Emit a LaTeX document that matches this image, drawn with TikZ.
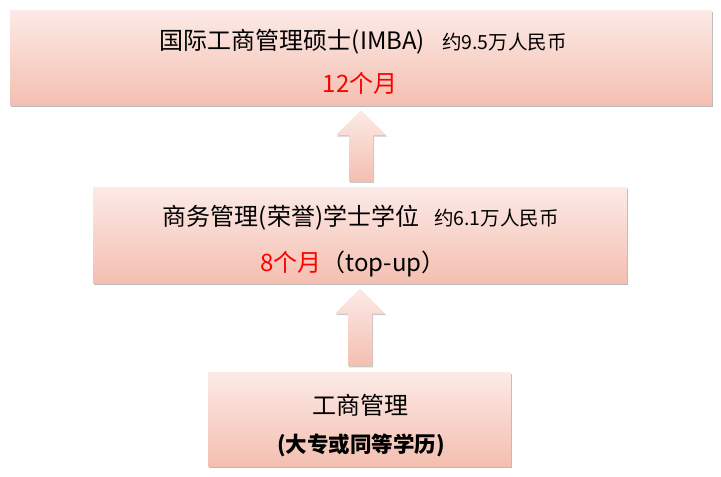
\documentclass[tikz,border=0pt]{standalone}
\usepackage{fontspec}
\setmainfont{Noto Sans CJK SC}
\usetikzlibrary{calc,shadows}
\definecolor{pinktop}{HTML}{FCEAE6}
\definecolor{pinkbot}{HTML}{F4BFB1}
\tikzset{
	levelbox/.style={draw=none,top color=pinktop,bottom color=pinkbot,
		drop shadow={shadow xshift=1pt,shadow yshift=-1.5pt,opacity=.45,fill=black!60},
		inner sep=0pt},
	uparrow/.style={top color=pinktop,bottom color=pinkbot,
		drop shadow={shadow xshift=1pt,shadow yshift=-1.5pt,opacity=.35,fill=black!60}},
	big/.style={font=\fontsize{24}{28}\selectfont},
	small/.style={font=\fontsize{19.5}{23}\selectfont}
}
\newcommand\blockup[2]{% arrow from box #1 up to box #2
	\path[uparrow] let \p1=(#1.north), \p2=(#2.south) in
		(\x2-12pt,\y1+6pt) -- (\x2-12pt,\y2-30pt) -- (\x2-25pt,\y2-30pt) --
		(\x2,\y2-5pt) -- (\x2+25pt,\y2-30pt) -- (\x2+12pt,\y2-30pt) --
		(\x2+12pt,\y1+6pt) -- cycle;
}
\begin{document}
\begin{tikzpicture}[x=1pt,y=-1pt]
	\useasboundingbox (0,0) rectangle (721,477);
	% boxes
	\node[levelbox,minimum width=702,minimum height=95] (imba) at (361,57.5) {};
	\node[levelbox,minimum width=534,minimum height=96] (hons) at (360,235.5) {};
	\node[levelbox,minimum width=303,minimum height=94] (dip) at (359.5,419) {};
	% texts
	\node[big] (imbaname) at (292.5,42) {国际工商管理硕士(IMBA)};
	\node[small,anchor=west,xshift=10pt] (imbafee) at (imbaname.east) {约9.5万人民币};
	\node[big,red] (imbatime) at (360,83) {12个月};
	\node[big] (honsname) at (291,218) {商务管理(荣誉)学士学位};
	\node[small,anchor=west,xshift=8pt] (honsfee) at (honsname.east) {约6.1万人民币};
	\node[big] (honstime) at (353,264) {\textcolor{red}{8个月}（top-up）};
	\node[big] (dipname) at (360,405) {工商管理};
	\node[font=\fontsize{21.5}{25}\selectfont\bfseries] (diplevel) at (361,445) {(大专或同等学历)};
	% arrows
	\blockup{hons}{imba}
	\blockup{dip}{hons}
\end{tikzpicture}
\end{document}
